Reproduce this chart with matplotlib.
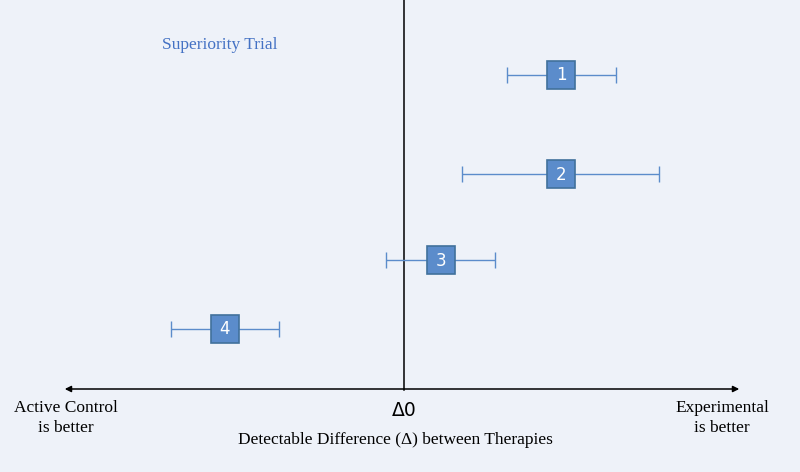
import matplotlib
matplotlib.use("Agg")
import matplotlib.pyplot as plt

# difference estimates (arbitrary units, 0 = no difference)
trials = ["1", "2", "3", "4"]
est = [15.7, 15.7, 3.7, -17.9]
lo = [10.3, 5.8, -1.8, -23.3]
hi = [21.2, 25.5, 9.1, -12.5]
row_y = [75, 174, 260, 329]

BG = "#eef2f9"
BOX = "#5b8ccb"
EDGE = "#41719c"

fig = plt.figure(figsize=(8, 4.72), dpi=100, facecolor=BG)
ax = fig.add_axes([0, 0, 1, 1])
ax.set_facecolor(BG)
ax.set_xlim(-40.4, 39.6)
ax.set_ylim(472, 0)
ax.axis("off")

for t, m, a, b, y in zip(trials, est, lo, hi, row_y):
    ax.errorbar(m, y, xerr=[[m - a], [b - m]], fmt="none", ecolor=BOX,
                elinewidth=1.0, capsize=5.5, capthick=1.0, zorder=2)
    ax.plot(m, y, marker="s", ms=20, mfc=BOX, mec=EDGE, mew=1.2, zorder=3)
    ax.text(m, y + 0.5, t, color="white", ha="center", va="center",
            fontsize=12, family="DejaVu Sans", zorder=4)

ax.plot([0, 0], [0, 390], color="black", lw=1.1, zorder=1)
ax.annotate("", xy=(33.8, 389), xytext=(-34.2, 389),
            arrowprops=dict(arrowstyle="<|-|>", color="black", lw=1.1,
                            mutation_scale=9))

serif = "Liberation Serif"
ax.text(-18.4, 45, "Superiority Trial", color="#4472c4", fontsize=12.5,
        family=serif, ha="center", va="center")
ax.text(-33.8, 418, "Active Control\nis better", fontsize=12.5, family=serif,
        ha="center", va="center", linespacing=1.3)
ax.text(31.8, 418, "Experimental\nis better", fontsize=12.5, family=serif,
        ha="center", va="center", linespacing=1.3)
ax.text(0, 410, "Δ0", fontsize=13.5, family="DejaVu Sans", ha="center",
        va="center")
ax.text(-0.9, 440, "Detectable Difference (Δ) between Therapies", fontsize=12.5,
        family=serif, ha="center", va="center")

fig.savefig("out.png", dpi=100, facecolor=BG)
